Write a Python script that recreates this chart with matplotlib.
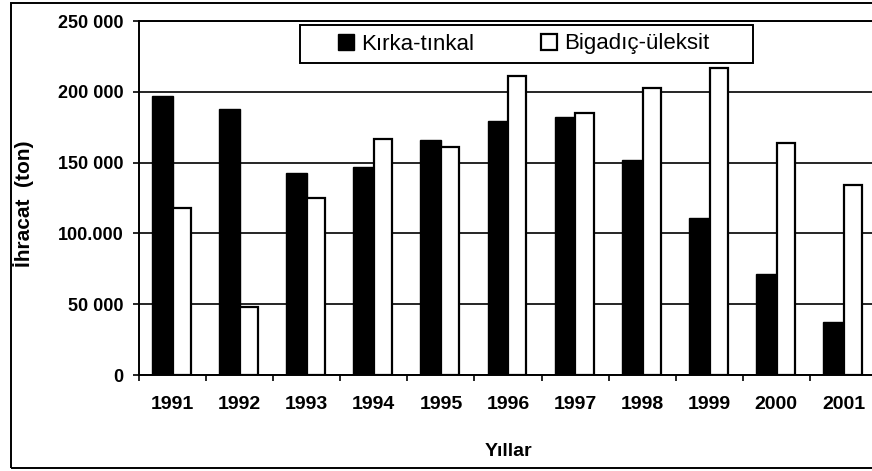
import numpy as np
import matplotlib
matplotlib.use("Agg")
import matplotlib.pyplot as plt
from matplotlib.patches import Rectangle

plt.rcParams['font.family'] = ['Liberation Sans', 'DejaVu Sans']

# Data (tons per year)
years = ['1991', '1992', '1993', '1994', '1995', '1996', '1997', '1998', '1999', '2000', '2001']
kirka = [197000, 188000, 142500, 146700, 166000, 179500, 182000, 152000, 111000, 71300, 37700]
bigadic = [118000, 48300, 125200, 166700, 161200, 211400, 184800, 203000, 216600, 164000, 134200]
ytick_vals = [0, 50000, 100000, 150000, 200000, 250000]
ytick_labels = ['0', '50 000', '100.000', '150 000', '200 000', '250 000']

W, H = 872, 471
fig = plt.figure(figsize=(W / 100, H / 100), dpi=100)
ax = fig.add_axes([139 / W, (H - 375) / H, (877 - 139) / W, (375 - 21) / H])

x = np.arange(len(years))
ax.bar(x - 0.15, kirka, width=0.31, color='black', edgecolor='black', linewidth=1,
       label='Kırka-tınkal', zorder=3)
ax.bar(x + 0.14, bigadic, width=0.27, color='white', edgecolor='black', linewidth=1.6,
       label='Bigadıç-üleksit', zorder=3)

ax.set_xlim(-0.5, len(years) - 0.5)
ax.set_ylim(0, 250000)
ax.set_yticks(ytick_vals)
ax.set_yticklabels(ytick_labels, fontsize=13, fontweight='bold')
ax.set_xticks(x)
ax.set_xticklabels(years, fontsize=14, fontweight='bold')
ax.set_xticks(np.arange(len(years) + 1) - 0.5, minor=True)
ax.tick_params(axis='x', which='major', length=0, pad=15)
ax.tick_params(axis='x', which='minor', length=4, width=1.2, direction='out')
ax.tick_params(axis='y', length=4, width=1.2, direction='out', pad=7)

ax.yaxis.grid(True, color='black', linewidth=1.2, zorder=1)
for s in ['left', 'bottom', 'top']:
    ax.spines[s].set_linewidth(1.4)
ax.spines['right'].set_visible(False)

ax.set_xlabel('Yıllar', fontsize=14, fontweight='bold', labelpad=22)
fig.text(24 / W, 1 - 204 / H, 'İhracat  (ton)', rotation=90, fontsize=15,
         fontweight='bold', ha='center', va='center')

# legend without its own frame; the box is drawn separately
fig.legend(loc='center', ncol=2, fontsize=16, frameon=False,
           bbox_to_anchor=(524 / W, 1 - 44 / H),
           handlelength=0.7, handleheight=0.7, handletextpad=0.35,
           columnspacing=3.0, borderpad=0)
fig.patches.append(Rectangle((300 / W, 1 - 63 / H), 453 / W, 38 / H,
                             transform=fig.transFigure, facecolor='white',
                             edgecolor='black', linewidth=1.4, zorder=5))
fig.legends[0].set_zorder(6)

fig.patches.append(Rectangle((11 / W, 1 - 468 / H), 1.0, (468 - 3) / H,
                             transform=fig.transFigure, fill=False,
                             edgecolor='black', linewidth=1.4))

fig.savefig('out.png', dpi=100)
